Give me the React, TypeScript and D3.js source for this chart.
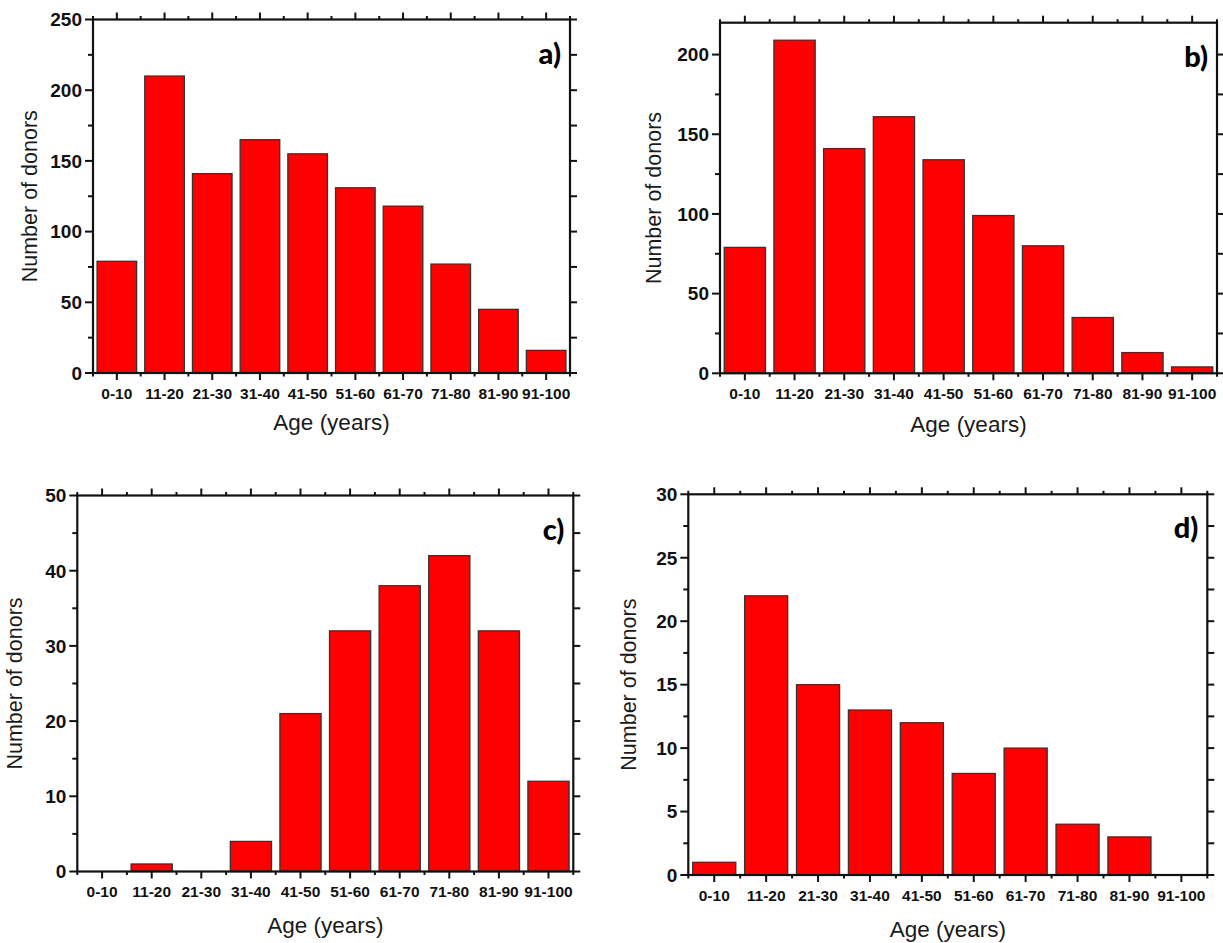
import React from 'react';
import * as d3 from 'd3';

// age groups shared by all four histograms
const ageGroups = ['0-10', '11-20', '21-30', '31-40', '41-50', '51-60', '61-70', '71-80', '81-90', '91-100'];

// number of donors per age group
const donorsA = [79, 210, 141, 165, 155, 131, 118, 77, 45, 16];
const donorsB = [79, 209, 141, 161, 134, 99, 80, 35, 13, 4];
const donorsC = [0, 1, 0, 4, 21, 32, 38, 42, 32, 12];
const donorsD = [1, 22, 15, 13, 12, 8, 10, 4, 3, 0];

// y axis extents and major tick steps
const yMaxes = [250, 220, 50, 30];
const yMajorSteps = [50, 50, 10, 5];
const panelLabels = ['a)', 'b)', 'c)', 'd)'];

const xTitle = 'Age (years)';
const yTitle = 'Number of donors';

// frame box of every panel on the page
const frames = [
    {left: 93, right: 570, top: 19.5, bottom: 373, yTitleX: 37, xTitleY: 430},
    {left: 720, right: 1217, top: 22.7, bottom: 373.3, yTitleX: 661, xTitleY: 432},
    {left: 77.3, right: 573.3, top: 495.5, bottom: 871.5, yTitleX: 22, xTitleY: 933},
    {left: 688.3, right: 1207.3, top: 494.3, bottom: 875, yTitleX: 636, xTitleY: 937}
];

const tickFont = '"Liberation Sans", Arial, sans-serif';

const Panel = ({data, yMax, step, label, frame}) => {
    const {left, right, top, bottom, yTitleX, xTitleY} = frame;

    const x = d3.scaleBand().domain(ageGroups).range([left, right]).padding(0);
    const y = d3.scaleLinear().domain([0, yMax]).range([bottom, top]);

    const bw = x.step() * 0.83;
    const majors = d3.range(0, yMax + 1e-6, step);
    const minors = d3.range(0, yMax + 1e-6, step / 2);
    const bounds = d3.range(0, ageGroups.length + 1).map((i) => left + i * x.step());
    const centres = ageGroups.map((g) => x(g) + x.bandwidth() / 2);

    return <g>
        {/* bars */}
        {data.map((v, i) => v > 0 && <rect key={'bar' + i}
                                            x={centres[i] - bw / 2} width={bw}
                                            y={y(v)} height={y(0) - y(v)}
                                            fill="#ff0000" stroke="#333" strokeWidth={1.3}/>)}

        {/* left axis ticks */}
        {minors.map((v, i) => {
            const isMajor = majors.some((m) => Math.abs(m - v) < 1e-6);
            return <line key={'ly' + i} x1={left - (isMajor ? 8 : 5)} x2={left} y1={y(v)} y2={y(v)}
                         stroke="#111" strokeWidth={2}/>;
        })}
        {majors.map((v) =>
            <text key={'yl' + v} x={left - 11} y={y(v)} dy="0.36em" textAnchor="end"
                  fontFamily={tickFont} fontWeight="bold" fontSize={19} fill="#111">{v}</text>)}

        {/* right axis ticks, no labels */}
        {minors.map((v, i) =>
            <line key={'ry' + i} x1={right} x2={right + 7} y1={y(v)} y2={y(v)} stroke="#111" strokeWidth={2}/>)}

        {/* top and bottom ticks: centres major, boundaries minor */}
        {centres.map((c, i) => <g key={'cx' + i}>
            <line x1={c} x2={c} y1={top} y2={top - 7} stroke="#111" strokeWidth={2}/>
            <line x1={c} x2={c} y1={bottom} y2={bottom + 7} stroke="#111" strokeWidth={2}/>
        </g>)}
        {bounds.map((b, i) => <g key={'bx' + i}>
            <line x1={b} x2={b} y1={top} y2={top - 3.5} stroke="#111" strokeWidth={2}/>
            <line x1={b} x2={b} y1={bottom} y2={bottom + 3.5} stroke="#111" strokeWidth={2}/>
        </g>)}
        {ageGroups.map((g, i) =>
            <text key={'xl' + g} x={centres[i]} y={bottom + 25.5} textAnchor="middle"
                  fontFamily={tickFont} fontWeight="bold" fontSize={15.5} fill="#111">{g}</text>)}

        {/* frame */}
        <rect x={left} y={top} width={right - left} height={bottom - top}
              fill="none" stroke="#111" strokeWidth={2.2}/>

        {/* axis titles */}
        <text x={(left + right) / 2} y={xTitleY} textAnchor="middle"
              fontFamily={tickFont} fontSize={22.5} fill="#1a1a1a">{xTitle}</text>
        <text transform={'translate(' + yTitleX + ' ' + (top + bottom) / 2 + ') rotate(-90)'}
              textAnchor="middle" fontFamily={tickFont} fontSize={21.5} fill="#1a1a1a">{yTitle}</text>

        {/* panel letter */}
        <text x={right - 9} y={top + 44} textAnchor="end"
              fontFamily="Lato, 'Open Sans', sans-serif" fontWeight={900} fontSize={29} fill="#000">{label}</text>
    </g>;
};

const App = () => {
    const series = [donorsA, donorsB, donorsC, donorsD];
    return <svg width={1223} height={943} style={{position: 'absolute', left: 0, top: 0, background: '#fff'}}>
        <rect width={1223} height={943} fill="#fff"/>
        {series.map((s, i) =>
            <Panel key={i} data={s} yMax={yMaxes[i]} step={yMajorSteps[i]} label={panelLabels[i]} frame={frames[i]}/>)}
    </svg>;
};

export default App;
